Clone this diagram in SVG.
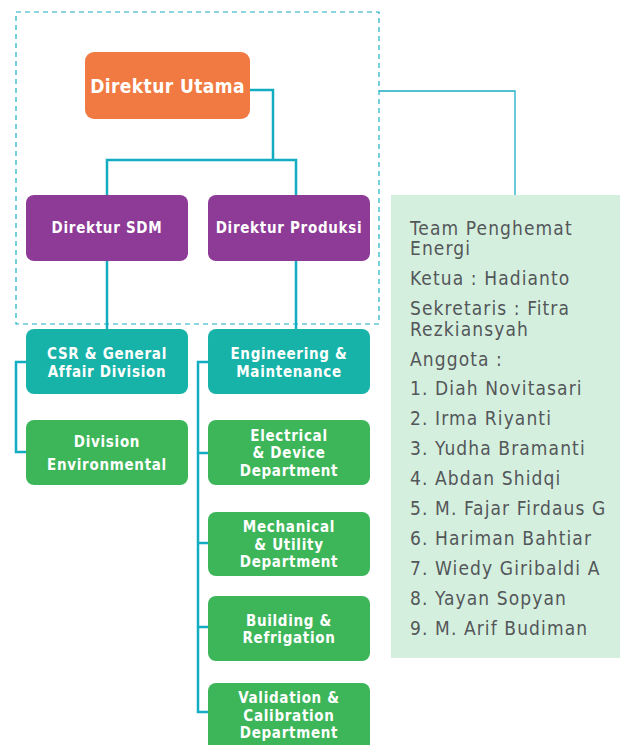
<svg xmlns="http://www.w3.org/2000/svg" width="620" height="745" viewBox="0 0 620 745">
<style>
.box{stroke:none}
.bt{font-family:"DejaVu Sans Condensed","DejaVu Sans",sans-serif;font-weight:bold;font-size:15px;letter-spacing:0.7px;fill:#fff;text-anchor:middle}
.pt{font-family:"DejaVu Sans Condensed","DejaVu Sans",sans-serif;font-size:19px;letter-spacing:1.1px;fill:#535759}
.ln{fill:none;stroke:#13adc2;stroke-width:2.5}
</style>
<rect width="620" height="745" fill="#fff"/>
<rect x="16" y="12" width="363" height="312" fill="none" stroke="#1aaec4" stroke-width="1.2" stroke-dasharray="5,4"/>
<g id="connectors">
<path class="ln" d="M250 90 H273 V160 M107 195 V160 H296 V195"/>
<path class="ln" d="M107 261 V329 M296 261 V329"/>
<path class="ln" d="M26 362 H16 V452 H26"/>
<path class="ln" d="M208 362 H198 V712 H208 M198 453 H208 M198 543 H208 M198 627 H208"/>
<path fill="none" stroke="#1aaec4" stroke-width="1.3" d="M379 91 H515 V195"/>
</g>
<g id="n-utama"><rect class="box" x="85" y="52" width="165" height="67" rx="9" fill="#f07a42"/><text class="bt" x="167.5" y="93" style="font-size:19px;letter-spacing:0.4px">Direktur Utama</text></g>
<g id="n-sdm"><rect class="box" x="26" y="195" width="162" height="66" rx="8" fill="#8e3b97"/><text class="bt" x="107" y="233">Direktur SDM</text></g>
<g id="n-produksi"><rect class="box" x="208" y="195" width="162" height="66" rx="8" fill="#8e3b97"/><text class="bt" x="289" y="233">Direktur Produksi</text></g>
<g id="n-csr"><rect class="box" x="26" y="329" width="162" height="65" rx="8" fill="#17b3a8"/><text class="bt" x="107" y="359">CSR &amp; General</text><text class="bt" x="107" y="377">Affair Division</text></g>
<g id="n-eng"><rect class="box" x="208" y="329" width="162" height="65" rx="8" fill="#17b3a8"/><text class="bt" x="289" y="359">Engineering &amp;</text><text class="bt" x="289" y="377">Maintenance</text></g>
<g id="n-env"><rect class="box" x="26" y="420" width="162" height="65" rx="8" fill="#3db65a"/><text class="bt" x="107" y="447">Division</text><text class="bt" x="107" y="470">Environmental</text></g>
<g id="n-elec"><rect class="box" x="208" y="420" width="162" height="65" rx="8" fill="#3db65a"/><text class="bt" x="289" y="441">Electrical</text><text class="bt" x="289" y="458">&amp; Device</text><text class="bt" x="289" y="476">Department</text></g>
<g id="n-mech"><rect class="box" x="208" y="512" width="162" height="64" rx="8" fill="#3db65a"/><text class="bt" x="289" y="532">Mechanical</text><text class="bt" x="289" y="550">&amp; Utility</text><text class="bt" x="289" y="567">Department</text></g>
<g id="n-build"><rect class="box" x="208" y="596" width="162" height="65" rx="8" fill="#3db65a"/><text class="bt" x="289" y="626">Building &amp;</text><text class="bt" x="289" y="643">Refrigation</text></g>
<g id="n-valid"><rect class="box" x="208" y="683" width="162" height="70" rx="8" fill="#3db65a"/><text class="bt" x="289" y="703">Validation &amp;</text><text class="bt" x="289" y="721">Calibration</text><text class="bt" x="289" y="738">Department</text></g>
<g id="n-team">
<rect x="391" y="195" width="229" height="463" fill="#d5efdf"/>
<text class="pt" x="410" y="235">Team Penghemat</text>
<text class="pt" x="410" y="255">Energi</text>
<text class="pt" x="410" y="285">Ketua : Hadianto</text>
<text class="pt" x="410" y="315">Sekretaris : Fitra</text>
<text class="pt" x="410" y="336">Rezkiansyah</text>
<text class="pt" x="410" y="366">Anggota :</text>
<text class="pt" x="410" y="395">1. Diah Novitasari</text>
<text class="pt" x="410" y="425">2. Irma Riyanti</text>
<text class="pt" x="410" y="455">3. Yudha Bramanti</text>
<text class="pt" x="410" y="485">4. Abdan Shidqi</text>
<text class="pt" x="410" y="515">5. M. Fajar Firdaus G</text>
<text class="pt" x="410" y="545">6. Hariman Bahtiar</text>
<text class="pt" x="410" y="575">7. Wiedy Giribaldi A</text>
<text class="pt" x="410" y="605">8. Yayan Sopyan</text>
<text class="pt" x="410" y="635">9. M. Arif Budiman</text>
</g>
</svg>
